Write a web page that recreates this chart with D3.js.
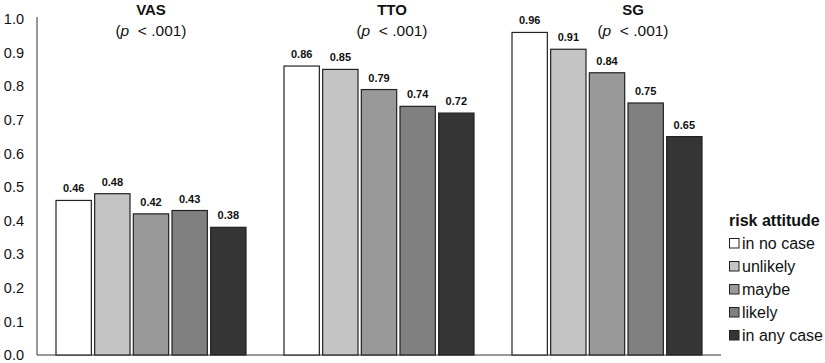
<!DOCTYPE html>
<html><head><meta charset="utf-8">
<script src="https://cdn.jsdelivr.net/npm/d3@7"></script>
<style>body{margin:0;background:#fff}svg{display:block}text{font-family:Arial,"Liberation Sans",sans-serif;fill:#111}</style>
</head><body><svg id="c" width="825" height="363"></svg>
<script>
const methods = ["VAS", "TTO", "SG"];
const pLabels = ["p", "p", "p"];
const pRest = ["< .001", "< .001", "< .001"];
const attitudes = ["in no case", "unlikely", "maybe", "likely", "in any case"];
const colors = ["#ffffff", "#c4c4c4", "#999999", "#808080", "#353535"];
const vasValues = [0.46, 0.48, 0.42, 0.43, 0.38];
const ttoValues = [0.86, 0.85, 0.79, 0.74, 0.72];
const sgValues = [0.96, 0.91, 0.84, 0.75, 0.65];
const yTicks = [0, 0.1, 0.2, 0.3, 0.4, 0.5, 0.6, 0.7, 0.8, 0.9, 1.0];
const legendTitle = "risk attitude";

const titleShift = [0, 13, 26];
const values = [vasValues, ttoValues, sgValues];
const svg = d3.select("#c");
const y = d3.scaleLinear().domain([0, 1]).range([355, 19]);
const x0 = d3.scaleBand().domain(methods).range([37, 721]).padding(0);
const x1 = d3.scaleBand().domain(attitudes).range([18.5, x0.bandwidth() - 18.5]).paddingInner(0.06).paddingOuter(0);
const color = d3.scaleOrdinal().domain(attitudes).range(colors);

// y axis
const yAxis = d3.axisLeft(y).tickValues(yTicks).tickFormat(d3.format(".1f")).tickSize(0).tickPadding(13);
const ga = svg.append("g").attr("transform", "translate(37,0)").call(yAxis);
ga.select(".domain").remove();
ga.selectAll("text").attr("font-size", 14.5).attr("fill", "#111").attr("font-family", "Arial, 'Liberation Sans', sans-serif");
svg.append("line").attr("x1", 37).attr("x2", 37).attr("y1", 17).attr("y2", y(0)).attr("stroke", "#333");
svg.append("line").attr("x1", 37).attr("x2", 721).attr("y1", y(0)).attr("y2", y(0)).attr("stroke", "#333");

methods.forEach((m, i) => {
  const g = svg.append("g").attr("transform", `translate(${x0(m)},0)`);
  const cx = x0.bandwidth() / 2 + titleShift[i];
  g.append("text").attr("x", cx).attr("y", 15).attr("text-anchor", "middle").attr("font-weight", "bold").attr("font-size", 15).text(m);
  const t = g.append("text").attr("x", cx).attr("y", 36).attr("text-anchor", "middle").attr("font-size", 15.5).attr("xml:space", "preserve");
  t.append("tspan").text("(");
  t.append("tspan").attr("font-style", "italic").text(pLabels[i]);
  t.append("tspan").text("\u00a0 " + pRest[i] + ")");
  const data = attitudes.map((a, j) => ({a, v: values[i][j]}));
  g.selectAll("rect").data(data).join("rect")
    .attr("x", d => x1(d.a) + 0.5).attr("y", d => y(d.v))
    .attr("width", x1.bandwidth() - 1).attr("height", d => y(0) - y(d.v))
    .attr("fill", d => color(d.a)).attr("stroke", "#222").attr("stroke-width", 1.2);
  g.selectAll("text.val").data(data).join("text").attr("class", "val")
    .attr("x", d => x1(d.a) + x1.bandwidth() / 2).attr("y", d => y(d.v) - 8)
    .attr("text-anchor", "middle").attr("font-weight", "bold").attr("font-size", 11)
    .text(d => d3.format(".2f")(d.v));
});

// legend
const lg = svg.append("g").attr("transform", "translate(729,0)");
lg.append("text").attr("x", 0).attr("y", 226).attr("font-weight", "bold").attr("font-size", 16).text(legendTitle);
const ly = d3.scalePoint().domain(attitudes).range([243, 335]);
attitudes.forEach(a => {
  lg.append("rect").attr("x", 0.5).attr("y", ly(a) - 4.5).attr("width", 9.5).attr("height", 9.5)
    .attr("fill", color(a)).attr("stroke", "#222");
  lg.append("text").attr("x", 13).attr("y", ly(a) + 5.5).attr("font-size", 16).text(a);
});
</script></body></html>
